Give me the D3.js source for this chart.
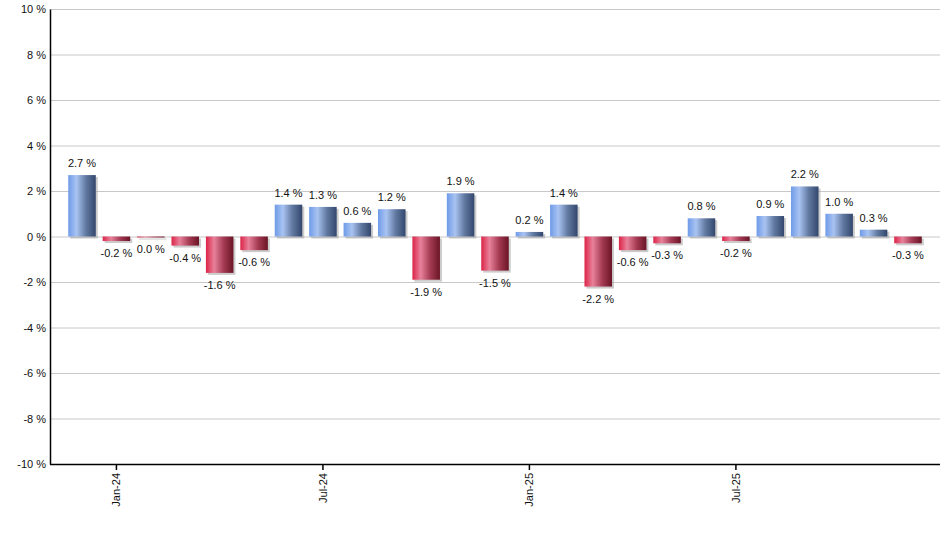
<!DOCTYPE html>
<html>
<head>
<meta charset="utf-8">
<script src="https://cdn.jsdelivr.net/npm/d3@7"></script>
<style>
  body { margin: 0; background: #fff; }
  text { font-family: "Liberation Sans", Arial, sans-serif; }
</style>
</head>
<body>
<script>
// monthly change, Dec-23 .. Dec-25
const months = ["Dec-23","Jan-24","Feb-24","Mar-24","Apr-24","May-24","Jun-24","Jul-24","Aug-24","Sep-24","Oct-24","Nov-24","Dec-24",
  "Jan-25","Feb-25","Mar-25","Apr-25","May-25","Jun-25","Jul-25","Aug-25","Sep-25","Oct-25","Nov-25","Dec-25"];
const values = [2.7, -0.2, 0.0, -0.4, -1.6, -0.6, 1.4, 1.3, 0.6, 1.2, -1.9, 1.9, -1.5,
  0.2, 1.4, -2.2, -0.6, -0.3, 0.8, -0.2, 0.9, 2.2, 1.0, 0.3, -0.3];
const tickMonths = ["Jan-24", "Jul-24", "Jan-25", "Jul-25"];
const yTicks = [-10, -8, -6, -4, -2, 0, 2, 4, 6, 8, 10];

const width = 940, height = 550;
const margin = {top: 9, right: 0, bottom: 86, left: 50};

const svg = d3.select("body").append("svg")
    .attr("width", width)
    .attr("height", height);

const defs = svg.append("defs");
const grad = (id, stops) => {
  const g = defs.append("linearGradient").attr("id", id)
      .attr("x1", "0%").attr("x2", "100%").attr("y1", "0%").attr("y2", "0%");
  stops.forEach(([o, c]) => g.append("stop").attr("offset", o).attr("stop-color", c));
};
grad("gBlue", [["0%", "#6f9be8"], ["30%", "#a9c3f2"], ["65%", "#60789f"], ["100%", "#33476e"]]);
grad("gRed", [["0%", "#dc2448"], ["30%", "#e8819a"], ["65%", "#a33a52"], ["100%", "#6b1426"]]);

const x = d3.scaleBand()
    .domain(months)
    .range([margin.left, width - margin.right])
    .paddingInner(0.2)
    .paddingOuter(0.53);

const y = d3.scaleLinear()
    .domain([-10, 10])
    .range([height - margin.bottom, margin.top]);

// grid
svg.append("g")
  .selectAll("line")
  .data(yTicks)
  .join("line")
    .attr("x1", margin.left)
    .attr("x2", width)
    .attr("y1", d => y(d) + 0.5)
    .attr("y2", d => y(d) + 0.5)
    .attr("stroke", "#c8c8c8");

const data = months.map((m, i) => ({m, v: values[i]}));

const bars = svg.append("g")
  .selectAll("g")
  .data(data)
  .join("g");

// soft shadow
bars.append("rect")
    .attr("x", d => x(d.m) + 2)
    .attr("y", d => Math.min(y(d.v), y(0)) + 2)
    .attr("width", x.bandwidth())
    .attr("height", d => Math.max(1, Math.abs(y(d.v) - y(0))))
    .attr("fill", "#9a9a9a")
    .attr("opacity", 0.5);

bars.append("rect")
    .attr("x", d => x(d.m))
    .attr("y", d => Math.min(y(d.v), y(0)))
    .attr("width", x.bandwidth())
    .attr("height", d => Math.max(1, Math.abs(y(d.v) - y(0))))
    .attr("fill", d => d.v > 0 ? "url(#gBlue)" : "url(#gRed)");

bars.append("text")
    .attr("x", d => x(d.m) + x.bandwidth() / 2)
    .attr("y", d => d.v > 0 ? y(d.v) - 8 : y(d.v) + 16)
    .attr("text-anchor", "middle")
    .attr("font-size", 11)
    .attr("fill", "#111")
    .text(d => d.v.toFixed(1) + " %");

// y axis
svg.append("g")
    .attr("transform", `translate(${margin.left},0)`)
    .call(d3.axisLeft(y).tickValues(yTicks).tickSize(0).tickPadding(4).tickFormat(d => d + " %"))
    .call(g => g.select(".domain").attr("stroke", "#000").attr("stroke-width", 1.5))
    .call(g => g.selectAll("text").attr("font-size", 11).attr("fill", "#111")
        .attr("font-family", "'Liberation Sans', Arial, sans-serif"));

// x axis
svg.append("g")
    .attr("transform", `translate(0,${height - margin.bottom})`)
    .call(d3.axisBottom(x).tickValues(tickMonths).tickSize(6).tickSizeOuter(0))
    .call(g => g.select(".domain").attr("stroke", "#000").attr("stroke-width", 1.5)
        .attr("d", `M${margin.left},0.5H${width}`))
    .call(g => g.selectAll(".tick line").attr("stroke", "#000").attr("stroke-width", 1.5))
    .call(g => g.selectAll("text")
        .attr("font-size", 11).attr("fill", "#111")
        .attr("font-family", "'Liberation Sans', Arial, sans-serif")
        .attr("transform", "rotate(-90)")
        .attr("text-anchor", "end")
        .attr("x", -9).attr("y", 0).attr("dy", "0.35em"));
</script>
</body>
</html>
